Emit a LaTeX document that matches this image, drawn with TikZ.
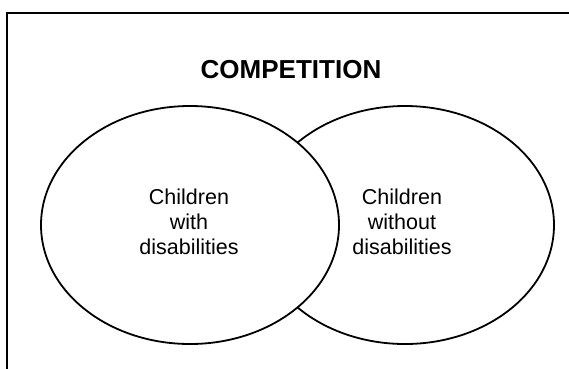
\documentclass[tikz,border=0pt]{standalone}
\usepackage{fontspec}
\setmainfont{Liberation Sans}
\usetikzlibrary{shapes.geometric,positioning}

\begin{document}
\begin{tikzpicture}[x=1pt,y=-1pt,
    every node/.append style={font=\fontsize{21.5}{25}\selectfont, align=center},
    setbox/.style={ellipse, draw, fill=white, line width=1.8pt,
                   minimum width=298pt, minimum height=238pt}]
  \useasboundingbox (0,0) rectangle (569,368);
  % frame, cut by the page edge
  \draw[line width=2.6pt] (7,380) |- (580,13);
  % the two sets
  \node[setbox] (without) at (405,225) {};
  \node[setbox] (with) at (190,225) {};
  \node[font=\bfseries\fontsize{26}{30}\selectfont, anchor=base] (title) at (291,78) {COMPETITION};
  \node (kidsA) at (189,222) {Children\\with\\disabilities};
  \node (kidsB) at (402,222) {Children\\without\\disabilities};
\end{tikzpicture}
\end{document}
